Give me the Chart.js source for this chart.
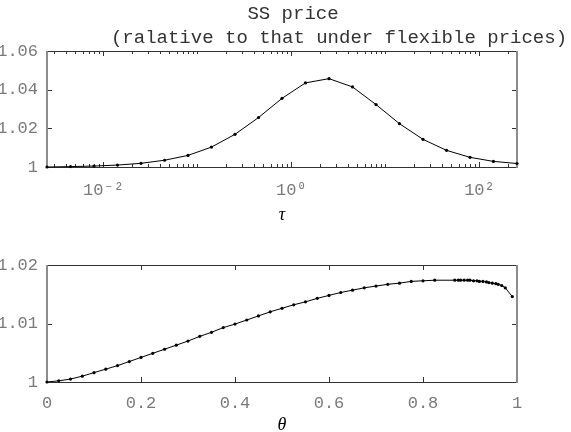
<!DOCTYPE html>
<html>
<head>
<meta charset="utf-8">
<script src="https://cdn.jsdelivr.net/npm/chart.js@4.4.1/dist/chart.umd.min.js"></script>
<style>
  html, body { margin: 0; padding: 0; background: #fff; }
  canvas { display: block; }
</style>
</head>
<body>
<canvas id="chartTau" width="571" height="222"></canvas>
<canvas id="chartTheta" width="571" height="210"></canvas>
<script>
// top panel: SS price against tau (log axis)
const tau = [0.00251, 0.00447, 0.00794, 0.0141, 0.0251, 0.0447, 0.0794, 0.141, 0.251, 0.447,
  0.794, 1.41, 2.51, 4.47, 7.94, 14.1, 25.1, 44.7, 79.4, 141, 251];
const priceTau = [1.0000, 1.0002, 1.0005, 1.0010, 1.0019, 1.0035, 1.0060, 1.0103, 1.0169, 1.0256,
  1.0355, 1.0435, 1.0457, 1.0414, 1.0323, 1.0224, 1.0143, 1.0086, 1.0050, 1.0029, 1.0018];
const tauTickValues = [0.01, 1, 100];
const tauTickLabels = ['10⁻²', '10⁰', '10²'];
const yTickValuesTop = [1, 1.02, 1.04, 1.06];
const yTickLabelsTop = ['1', '1.02', '1.04', '1.06'];

// bottom panel: SS price against theta
const theta = [0, 0.025, 0.05, 0.075, 0.1, 0.125, 0.15, 0.175, 0.2, 0.225, 0.25, 0.275, 0.3, 0.325,
  0.35, 0.375, 0.4, 0.425, 0.45, 0.475, 0.5, 0.525, 0.55, 0.575, 0.6, 0.625, 0.65, 0.675, 0.7,
  0.725, 0.75, 0.775, 0.8, 0.825,
  0.8675, 0.875, 0.88, 0.8875, 0.895, 0.9, 0.9075, 0.915, 0.92, 0.9275, 0.935, 0.94, 0.9475,
  0.955, 0.96, 0.9675, 0.975, 0.99];
const priceTheta = [1.0000, 1.0002, 1.0005, 1.0010, 1.0016, 1.0022, 1.0028, 1.0035, 1.0042, 1.0049,
  1.0056, 1.0063, 1.0070, 1.0078, 1.0085, 1.0093, 1.0099, 1.0106, 1.0113, 1.0120, 1.0126, 1.0132,
  1.0137, 1.0143, 1.0148, 1.0153, 1.0157, 1.0161, 1.0164, 1.0167, 1.0169, 1.0172, 1.0173, 1.0174,
  1.0174, 1.0174, 1.0174, 1.0174, 1.0174, 1.0174, 1.0173, 1.0173, 1.0172, 1.0172, 1.0171, 1.0170,
  1.0169, 1.0168, 1.0167, 1.0165, 1.0161, 1.0146];
const thetaTickValues = [0, 0.2, 0.4, 0.6, 0.8, 1];
const thetaTickLabels = ['0', '0.2', '0.4', '0.6', '0.8', '1'];
const yTickValuesBottom = [1, 1.01, 1.02];
const yTickLabelsBottom = ['1', '1.01', '1.02'];

const titleLines = ['SS price', '(ralative to that under flexible prices)'];

const monoFont = '"Liberation Mono", "DejaVu Sans Mono", monospace';
const tickColor = '#7a7a7a';

function sameValue(a, b) {
  return Math.abs(a - b) < 1e-9 * Math.max(1, Math.abs(b));
}
function labelFor(values, labels) {
  return (v) => {
    const i = values.findIndex(t => sameValue(v, t));
    return i >= 0 ? labels[i] : '';
  };
}

// matlab style box with inward ticks on all four sides
const frameTicks = {
  id: 'frameTicks',
  beforeDatasetsDraw(chart, args, opts) {
    const { ctx, chartArea: a } = chart;
    const xs = chart.scales.x, ys = chart.scales.y;
    ctx.save();
    ctx.strokeStyle = '#333';
    ctx.lineWidth = 1;
    ctx.beginPath();
    xs.ticks.forEach(t => {
      const px = Math.round(xs.getPixelForValue(t.value)) + 0.5;
      const len = opts.majorX.some(m => sameValue(t.value, m)) ? 5 : 3;
      ctx.moveTo(px, a.bottom); ctx.lineTo(px, a.bottom - len);
      ctx.moveTo(px, a.top); ctx.lineTo(px, a.top + len);
    });
    ys.ticks.forEach(t => {
      const py = Math.round(ys.getPixelForValue(t.value)) + 0.5;
      ctx.moveTo(a.left, py); ctx.lineTo(a.left + 5, py);
      ctx.moveTo(a.right, py); ctx.lineTo(a.right - 5, py);
    });
    ctx.stroke();
    ctx.beginPath();
    ctx.moveTo(a.left, Math.round(a.top) + 0.5); ctx.lineTo(a.right, Math.round(a.top) + 0.5);
    ctx.moveTo(a.left, Math.round(a.bottom) + 0.5); ctx.lineTo(a.right, Math.round(a.bottom) + 0.5);
    ctx.stroke();
    ctx.strokeStyle = '#8c8c8c';
    ctx.lineWidth = 2;
    ctx.beginPath();
    ctx.moveTo(a.left, a.top); ctx.lineTo(a.left, a.bottom + 1);
    ctx.moveTo(a.right, a.top); ctx.lineTo(a.right, a.bottom + 1);
    ctx.stroke();
    ctx.restore();
  }
};

const twoLineTitle = {
  id: 'twoLineTitle',
  afterDraw(chart) {
    const ctx = chart.ctx;
    ctx.save();
    ctx.font = '19px ' + monoFont;
    ctx.fillStyle = '#333';
    ctx.textAlign = 'center';
    ctx.textBaseline = 'middle';
    ctx.fillText(titleLines[0], 293, 14);
    ctx.fillText(titleLines[1], 339, 38);
    ctx.restore();
  }
};

function lineData(xs, ys) {
  return xs.map((x, i) => ({ x: x, y: ys[i] }));
}

function baseDataset(data) {
  return {
    data: data,
    borderColor: '#000',
    backgroundColor: '#000',
    borderWidth: 1,
    pointRadius: 1.6,
    pointBorderWidth: 0,
    pointBackgroundColor: '#000',
    tension: 0,
    clip: false
  };
}

function yScale(min, max, values, labels, width) {
  return {
    min: min,
    max: max,
    afterBuildTicks: (axis) => { axis.ticks = values.map(v => ({ value: v })); },
    afterFit: (axis) => { axis.width = width; },
    grid: { display: false },
    border: { display: false },
    ticks: {
      padding: 1,
      color: tickColor,
      font: { family: monoFont, size: 17 },
      callback: labelFor(values, labels)
    }
  };
}

new Chart(document.getElementById('chartTau'), {
  type: 'line',
  data: { datasets: [baseDataset(lineData(tau, priceTau))] },
  plugins: [frameTicks, twoLineTitle],
  options: {
    responsive: false,
    animation: false,
    layout: { padding: { top: 51, right: 54, left: 0, bottom: 0 } },
    plugins: {
      legend: { display: false },
      tooltip: { enabled: false },
      frameTicks: { majorX: tauTickValues }
    },
    scales: {
      x: {
        type: 'logarithmic',
        min: tau[0],
        max: tau[tau.length - 1],
        afterBuildTicks: (axis) => {
          const ticks = [];
          for (let e = -3; e <= 2; e++) {
            for (let m = 1; m <= 9; m++) {
              const v = m * Math.pow(10, e);
              if (v >= axis.min && v <= axis.max) ticks.push({ value: v });
            }
          }
          axis.ticks = ticks;
        },
        afterFit: (axis) => { axis.height = 55; },
        grid: { display: false },
        border: { display: false },
        ticks: {
          autoSkip: false,
          maxRotation: 0,
          padding: 5,
          color: tickColor,
          font: { family: monoFont, size: 17 },
          callback: labelFor(tauTickValues, tauTickLabels)
        },
        title: {
          display: true,
          text: 'τ',
          color: '#000',
          padding: 0,
          font: { family: '"Liberation Serif", "DejaVu Serif", serif', size: 18, style: 'italic', lineHeight: 0.7 }
        }
      },
      y: yScale(1, 1.06, yTickValuesTop, yTickLabelsTop, 47)
    }
  }
});

new Chart(document.getElementById('chartTheta'), {
  type: 'line',
  data: { datasets: [baseDataset(lineData(theta, priceTheta))] },
  plugins: [frameTicks],
  options: {
    responsive: false,
    animation: false,
    layout: { padding: { top: 43, right: 54, left: 0, bottom: 0 } },
    plugins: {
      legend: { display: false },
      tooltip: { enabled: false },
      frameTicks: { majorX: thetaTickValues }
    },
    scales: {
      x: {
        type: 'linear',
        min: 0,
        max: 1,
        afterBuildTicks: (axis) => { axis.ticks = thetaTickValues.map(v => ({ value: v })); },
        afterFit: (axis) => { axis.height = 50; },
        grid: { display: false },
        border: { display: false },
        ticks: {
          autoSkip: false,
          maxRotation: 0,
          padding: 3,
          color: tickColor,
          font: { family: monoFont, size: 17 },
          callback: labelFor(thetaTickValues, thetaTickLabels)
        },
        title: {
          display: true,
          text: 'θ',
          color: '#000',
          padding: 0,
          font: { family: '"Liberation Serif", "DejaVu Serif", serif', size: 18, style: 'italic', lineHeight: 0.8 }
        }
      },
      y: yScale(1, 1.02, yTickValuesBottom, yTickLabelsBottom, 47)
    }
  }
});
</script>
</body>
</html>
